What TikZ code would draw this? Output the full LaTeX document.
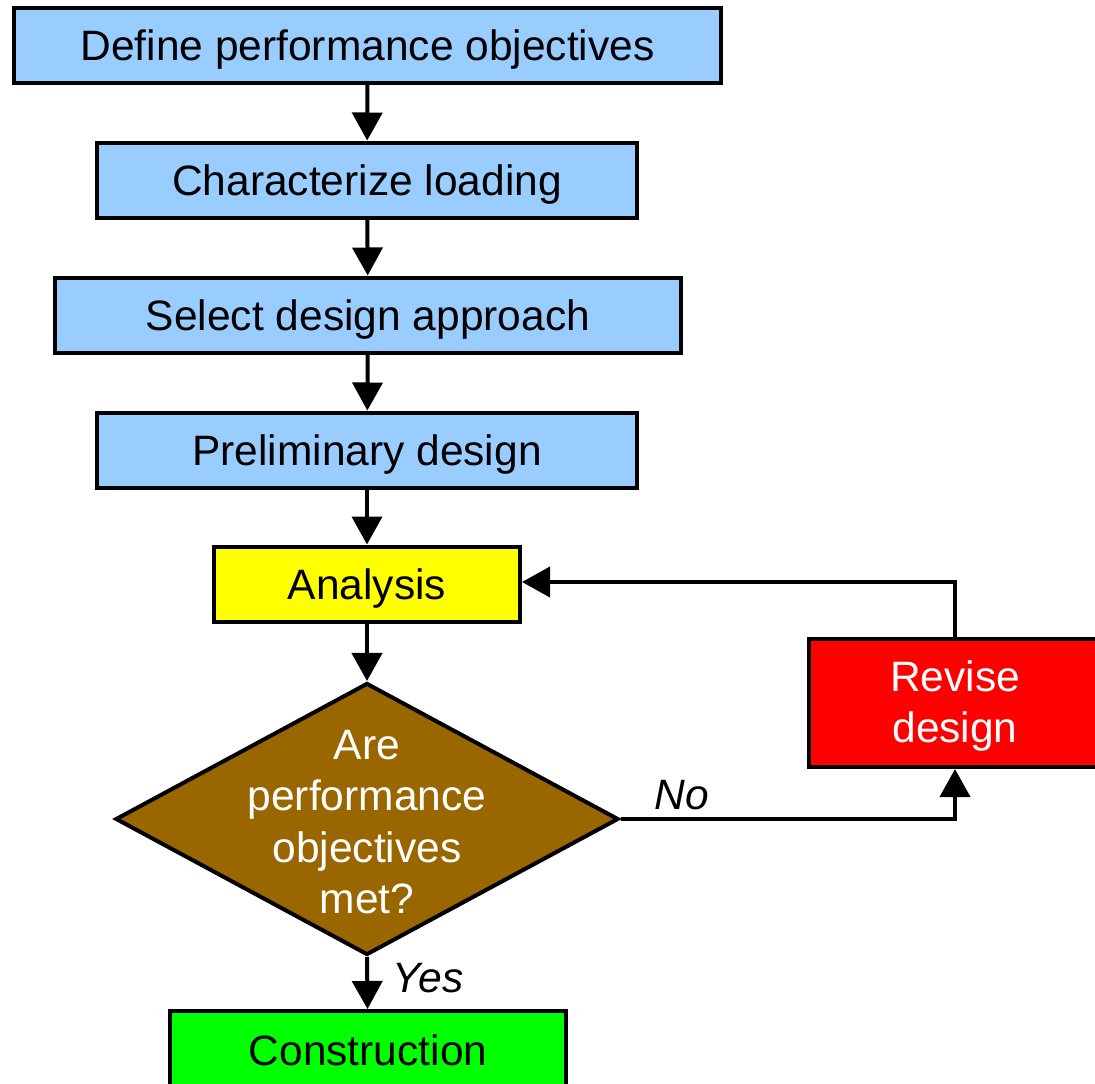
\documentclass[tikz,border=0pt]{standalone}
\usepackage{fontspec}
\setmainfont{Liberation Sans}
\usetikzlibrary{arrows.meta,shapes.geometric}

\definecolor{stepblue}{HTML}{99CCFF}
\definecolor{analysisyellow}{HTML}{FFFF00}
\definecolor{decisionbrown}{HTML}{996600}
\definecolor{revisered}{HTML}{FF0000}
\definecolor{buildgreen}{HTML}{00FF00}

\begin{document}
\begin{tikzpicture}[x=1pt,y=-1pt,
  every node/.style={font=\fontsize{42.5}{51.5}\selectfont},
  stepbox/.style={draw=black,line width=4pt,rectangle,inner sep=0pt,
    fill=stepblue,minimum height=75pt},
  oneline/.style={text height=30.5pt,text depth=0pt},
  flow/.style={line width=4pt,-{Triangle[width=30pt,length=28pt]}},
  tag/.style={font=\fontsize{42.5}{51.5}\selectfont\itshape}]
\useasboundingbox (0,0) rectangle (1095,1084);

% main sequence of steps
\node[stepbox,oneline,minimum width=707pt] (define) at (367.5,45.5) {Define performance objectives};
\node[stepbox,oneline,minimum width=540pt] (loading) at (367,180) {Characterize loading};
\node[stepbox,oneline,minimum width=626pt] (approach) at (368,315) {Select design approach};
\node[stepbox,oneline,minimum width=540pt] (prelim) at (367,450) {Preliminary design};
\node[stepbox,oneline,minimum width=306pt,fill=analysisyellow] (analysis) at (367,584) {Analysis};

% decision
\node[diamond,draw=black,line width=4pt,fill=decisionbrown,inner sep=0pt,
  minimum width=503pt,minimum height=272pt] (check) at (367,819) {};
\node[align=center,text=white] (checktext) at (367,822) {Are\\performance\\objectives\\met?};

% revision loop and final step
\node[stepbox,minimum width=292pt,minimum height=128pt,fill=revisered,
  align=center,text=white] (revise) at (955,703) {};
\node[align=center,text=white] (revisetext) at (955,706) {Revise\\design};
\node[stepbox,oneline,minimum width=396pt,minimum height=78pt,fill=buildgreen] (build) at (368,1050) {Construction};

% connectors
\draw[flow] (define) -- (loading);
\draw[flow] (loading) -- (approach);
\draw[flow] (approach) -- (prelim);
\draw[flow] (prelim) -- (analysis);
\draw[flow] (analysis) -- (check);
\draw[flow] (check.south) -- (build);
\draw[flow] (check.east) -| (revise.south);
\draw[flow] (revise.north) |- ([yshift=2pt]analysis.east);

% branch labels
\node[tag] (nolabel) at (682,795) {No};
\node[tag] (yeslabel) at (428,978) {Yes};
\end{tikzpicture}
\end{document}
